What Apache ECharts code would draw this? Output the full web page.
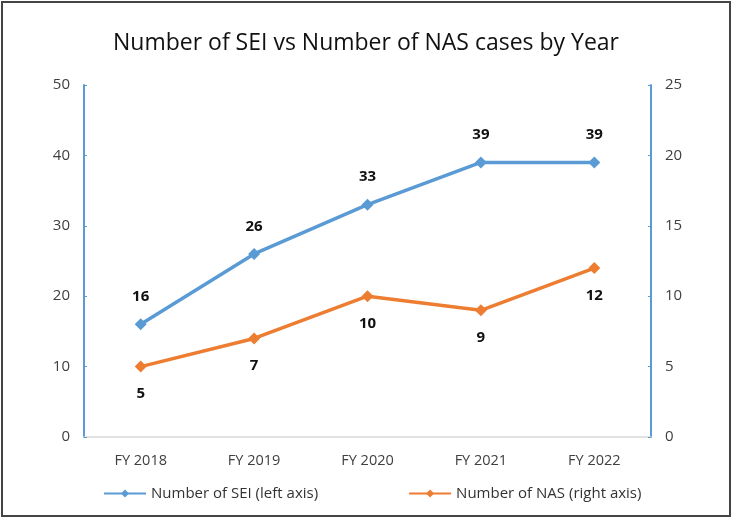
<!DOCTYPE html>
<html>
<head>
<meta charset="utf-8">
<script src="https://cdn.jsdelivr.net/npm/echarts@6/dist/echarts.min.js"></script>
<style>
    html, body { margin: 0; padding: 0; background: #fff; }
    #chartBox {
        position: absolute; left: 1px; top: 1px;
        width: 726px; height: 512px;
        border: 2px solid #444;
    }
</style>
</head>
<body>
<div id="chartBox"></div>
<script>
// data
const years = ['FY 2018', 'FY 2019', 'FY 2020', 'FY 2021', 'FY 2022'];
const seiCounts = [16, 26, 33, 39, 39];
const nasCounts = [5, 7, 10, 9, 12];
const leftTicks = [0, 50, 10];   // min, max, step
const rightTicks = [0, 25, 5];

let myChart = echarts.init(document.getElementById('chartBox'));

const blue = '#5B9BD5';
const orange = '#ED7D31';
const font = '"Open Sans", "Liberation Sans", sans-serif';

let option = {
    animation: false,
    title: {
        text: 'Number of SEI vs Number of NAS cases by Year',
        left: 'center',
        top: 24,
        textStyle: { fontFamily: font, fontSize: 23, fontWeight: 'normal', color: '#111' }
    },
    legend: {
        bottom: 9,
        left: 95,
        itemGap: 90,
        itemWidth: 42,
        itemHeight: 10,
        textStyle: { fontFamily: font, fontSize: 15, color: '#333' },
        data: ['Number of SEI (left axis)', 'Number of NAS (right axis)']
    },
    grid: { left: 81, right: 78, top: 82, bottom: 78 },
    xAxis: {
        type: 'category',
        data: years,
        axisLine: { lineStyle: { color: '#d9d9d9', width: 1.5 } },
        axisTick: { show: false },
        axisLabel: { fontFamily: font, fontSize: 14.5, color: '#404040', margin: 16 }
    },
    yAxis: [
        {
            type: 'value',
            min: leftTicks[0], max: leftTicks[1], interval: leftTicks[2],
            splitLine: { show: false },
            axisLine: { show: true, lineStyle: { color: blue, width: 2 } },
            axisTick: { show: true, inside: true, length: 3, lineStyle: { color: blue } },
            axisLabel: { fontFamily: font, fontSize: 15, color: '#404040', margin: 14 }
        },
        {
            type: 'value',
            min: rightTicks[0], max: rightTicks[1], interval: rightTicks[2],
            splitLine: { show: false },
            axisLine: { show: true, lineStyle: { color: blue, width: 2 } },
            axisTick: { show: true, inside: true, length: 3, lineStyle: { color: blue } },
            axisLabel: { fontFamily: font, fontSize: 15, color: '#404040', margin: 14 }
        }
    ],
    series: [
        {
            name: 'Number of SEI (left axis)',
            type: 'line',
            yAxisIndex: 0,
            data: seiCounts,
            symbol: 'diamond',
            symbolSize: 12,
            lineStyle: { color: blue, width: 3.5 },
            itemStyle: { color: blue },
            label: {
                show: true, position: 'top', distance: 14,
                fontFamily: font, fontSize: 15, fontWeight: 'bold', color: '#111'
            }
        },
        {
            name: 'Number of NAS (right axis)',
            type: 'line',
            yAxisIndex: 1,
            data: nasCounts,
            symbol: 'diamond',
            symbolSize: 12,
            lineStyle: { color: orange, width: 3.5 },
            itemStyle: { color: orange },
            label: {
                show: true, position: 'bottom', distance: 14,
                fontFamily: font, fontSize: 15, fontWeight: 'bold', color: '#111'
            }
        }
    ]
};
myChart.setOption(option);
</script>
</body>
</html>
